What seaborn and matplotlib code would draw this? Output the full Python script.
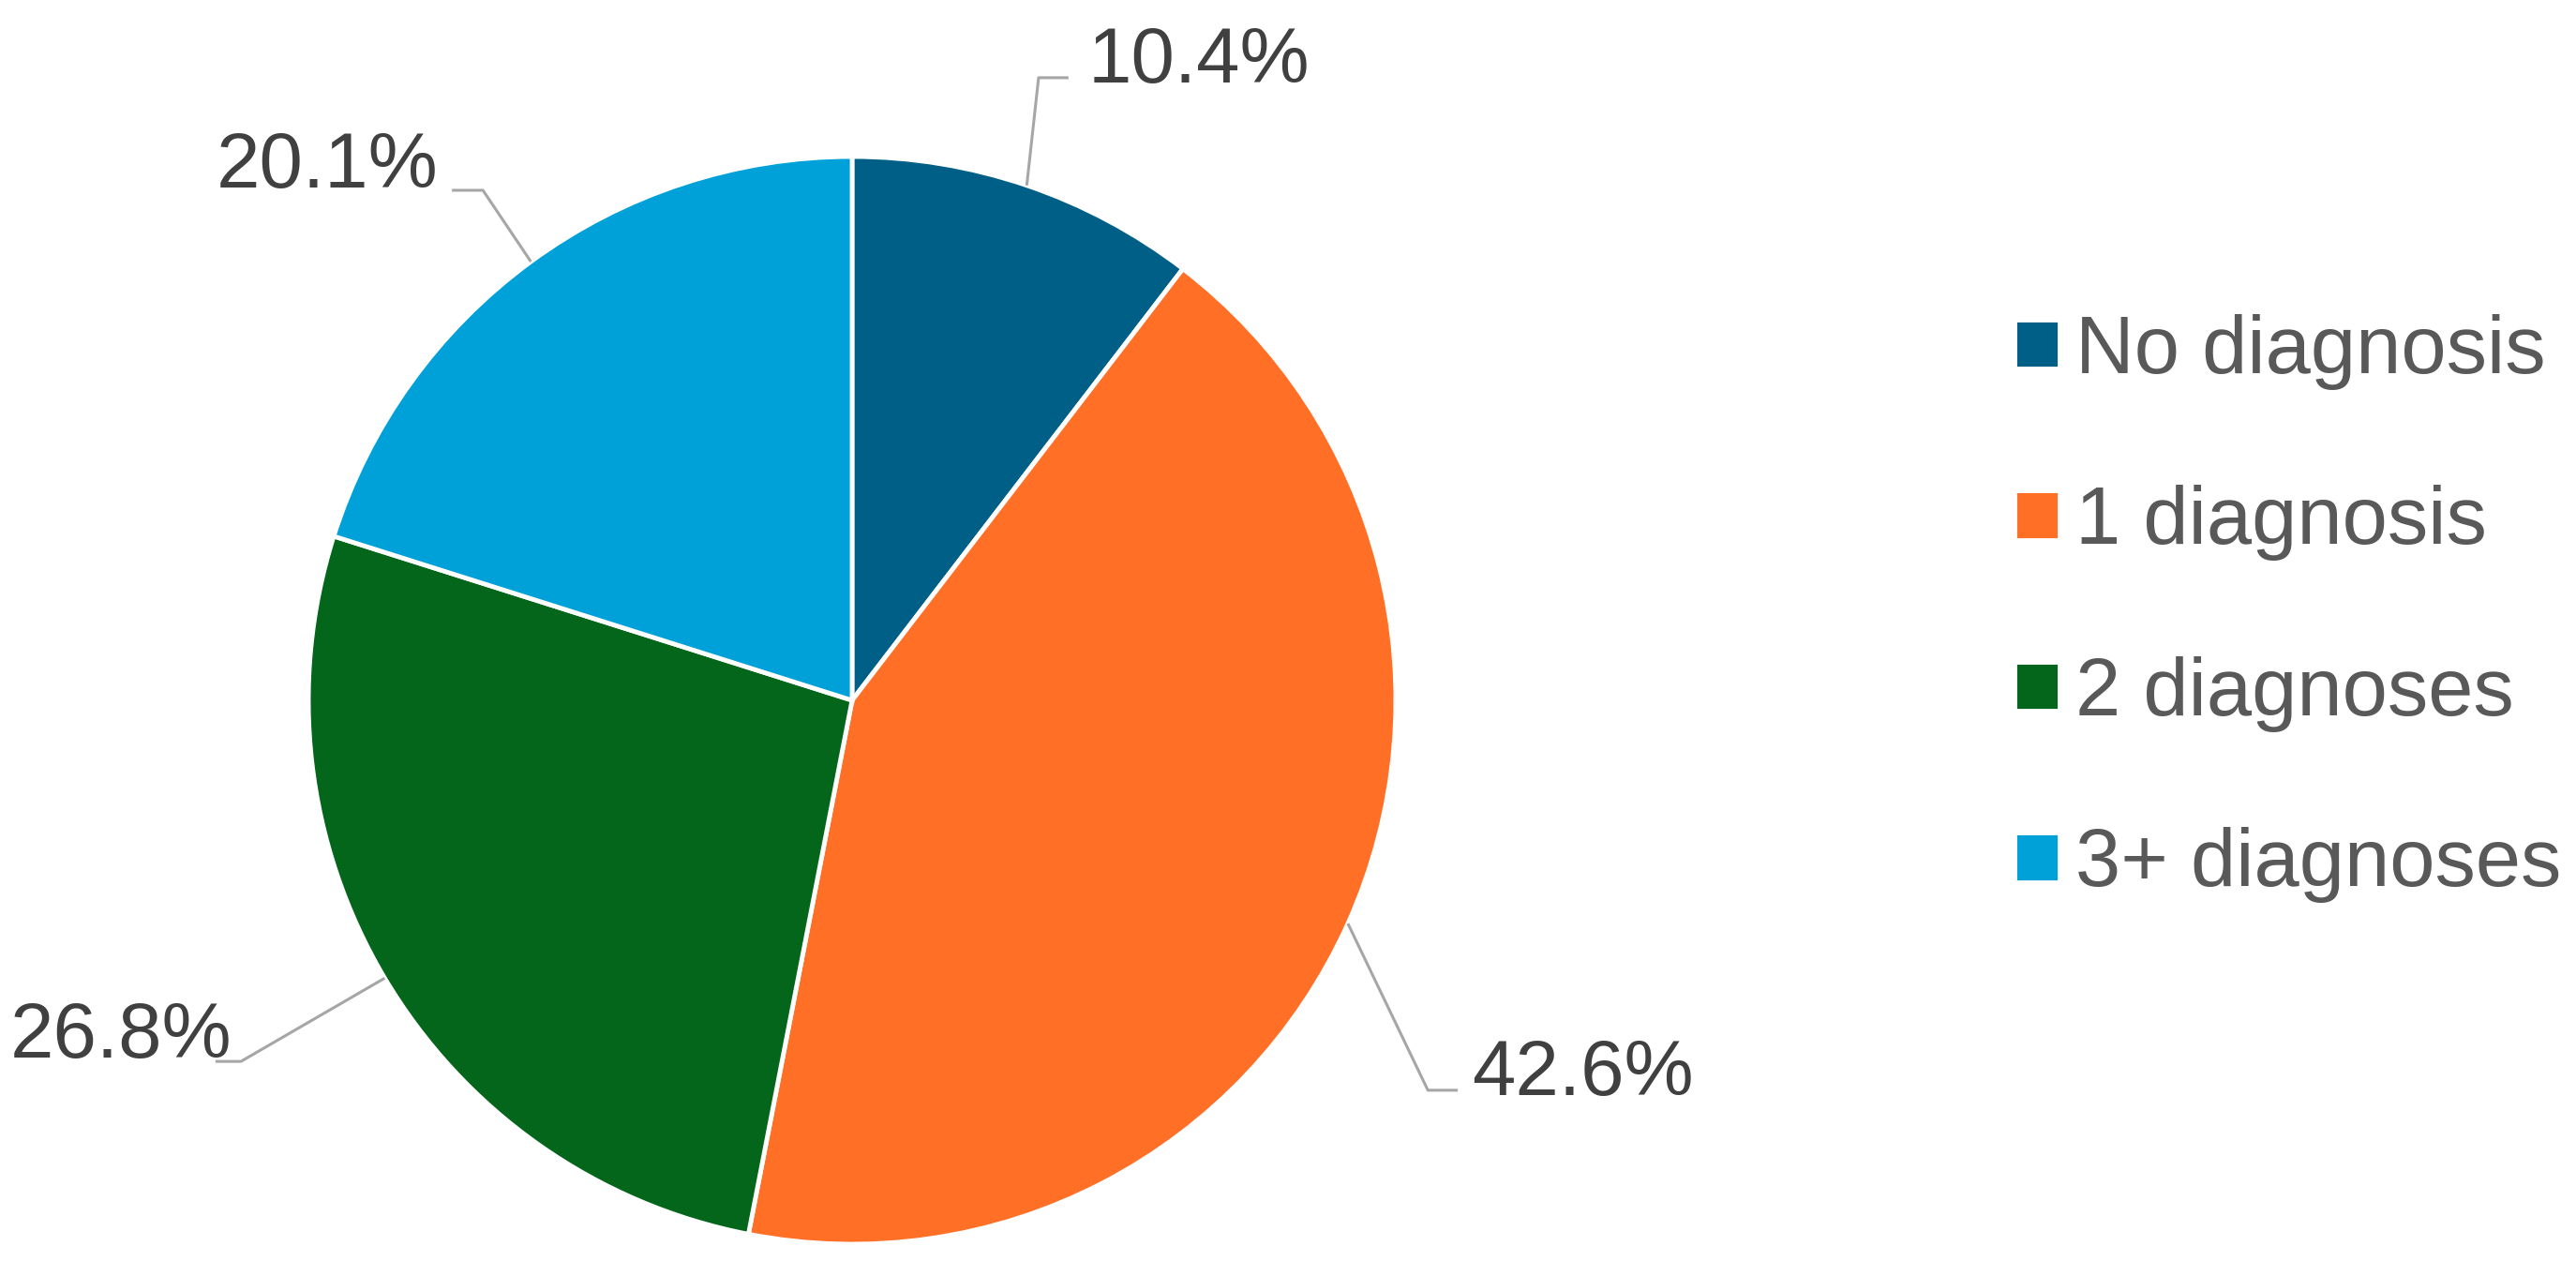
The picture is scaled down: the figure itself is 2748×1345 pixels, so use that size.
import numpy as np
import matplotlib
matplotlib.use("Agg")
import matplotlib.pyplot as plt
import seaborn as sns

categories = ["No diagnosis", "1 diagnosis", "2 diagnoses", "3+ diagnoses"]
shares = [10.4, 42.6, 26.8, 20.1]
colors = ["#005f86", "#ff6f26", "#03661a", "#00a1d9"]

# label placement: elbow of leader, end of leader, text anchor (in pie radii)
elbows = [(0.343, 1.145), (1.059, -0.717), (-1.124, -0.664), (-0.679, 0.938)]
ends = [(0.398, 1.145), (1.114, -0.717), (-1.171, -0.664), (-0.736, 0.938)]
text_pos = [(0.433, 1.136, "left"), (1.140, -0.726, "left"),
            (-1.140, -0.657, "right"), (-0.762, 0.943, "right")]

sns.set_theme(style="white")
plt.rcParams["font.family"] = ["Liberation Sans", "DejaVu Sans"]

W, H, dpi = 2748, 1345, 100
cx, cy, r = 909, 747, 580
fig = plt.figure(figsize=(W / dpi, H / dpi), dpi=dpi)
ax = fig.add_axes([0, 0, 1, 1])
wedges, _ = ax.pie(shares, colors=colors, startangle=90, counterclock=False,
                   radius=1, center=(0, 0), normalize=True,
                   wedgeprops=dict(edgecolor="white", linewidth=3.5))
ax.set_xlim(-cx / r, (W - cx) / r)
ax.set_ylim((cy - H) / r, cy / r)
ax.set_aspect("auto")
ax.axis("off")

for w, val, el, en, tp in zip(wedges, shares, elbows, ends, text_pos):
    mid = np.deg2rad((w.theta1 + w.theta2) / 2)
    start = (np.cos(mid), np.sin(mid))
    ax.plot([start[0], el[0], en[0]], [start[1], el[1], en[1]],
            color="#a6a6a6", lw=2.2, solid_capstyle="butt", zorder=1)
    ax.text(tp[0], tp[1], f"{val:.1f}%", ha=tp[2], va="baseline",
            fontsize=60, color="#404040")

ax.legend(wedges, categories, loc="center left", bbox_to_anchor=(0.782, 0.5175),
          bbox_transform=fig.transFigure, frameon=False, fontsize=62.5,
          handlelength=0.55, handleheight=0.55, handletextpad=0.2,
          labelspacing=1.17, borderpad=0, borderaxespad=0,
          labelcolor="#595959")

fig.savefig("out.png", dpi=dpi, facecolor="white")
